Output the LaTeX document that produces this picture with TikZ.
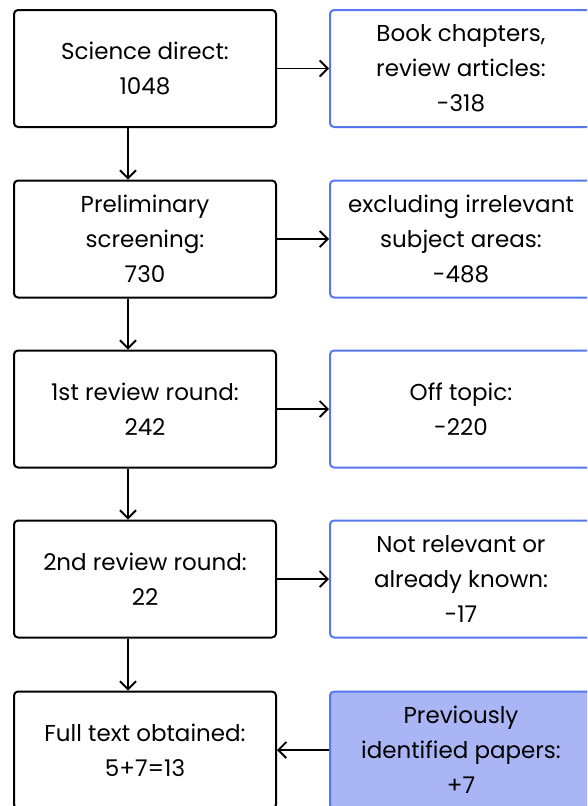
\documentclass[tikz,border=0pt]{standalone}
\usepackage{fontspec}
\setmainfont{Poppins}
\usetikzlibrary{positioning, arrows.meta}
\definecolor{revblue}{RGB}{88,118,238}
\definecolor{revfill}{RGB}{170,181,245}
\tikzset{
    countbox/.style={rectangle, rounded corners=4pt, draw=black, line width=2pt, minimum width=262pt, minimum height=117pt, align=center, font=\fontsize{23}{35}\selectfont},
    dropbox/.style={rectangle, rounded corners=4pt, draw=revblue, line width=2pt, minimum width=262pt, minimum height=117pt, align=center, font=\fontsize{23}{35}\selectfont},
    addbox/.style={dropbox, fill=revfill},
    arr/.style={-{Straight Barb[length=8pt, width=16pt]}, line width=1.8pt}
}
\begin{document}
\begin{tikzpicture}[x=1pt, y=-1pt]
    \useasboundingbox (0,0) rectangle (587,806);
    \clip (0,0) rectangle (587,806);
    \node[countbox] at (145, 68.5) (sd) {Science direct:\\1048};
    \node[countbox] at (145, 239) (ps) {Preliminary\\screening:\\730};
    \node[countbox] at (145, 409) (r1) {1st review round:\\242};
    \node[countbox] at (145, 579) (r2) {2nd review round:\\22};
    \node[countbox] at (145, 750) (ft) {Full text obtained:\\5+7=13};
    \node[dropbox] at (461, 68.5) (bc) {Book chapters,\\review articles:\\-318};
    \node[dropbox] at (461, 239) (ex) {excluding irrelevant\\subject areas:\\-488};
    \node[dropbox] at (461, 409) (ot) {Off topic:\\-220};
    \node[dropbox] at (461, 579) (nr) {Not relevant or\\already known:\\-17};
    \node[addbox] at (461, 750) (pi) {Previously\\identified papers:\\+7};
    \draw[arr] (sd) -- (bc); \draw[arr] (ps) -- (ex);
    \draw[arr] (r1) -- (ot); \draw[arr] (r2) -- (nr);
    \draw[arr] (pi) -- (ft);
    \draw[arr] ([xshift=-17pt]sd.south) -- ([xshift=-17pt]ps.north);
    \draw[arr] ([xshift=-17pt]ps.south) -- ([xshift=-17pt]r1.north);
    \draw[arr] ([xshift=-17pt]r1.south) -- ([xshift=-17pt]r2.north);
    \draw[arr] ([xshift=-17pt]r2.south) -- ([xshift=-17pt]ft.north);
\end{tikzpicture}
\end{document}
